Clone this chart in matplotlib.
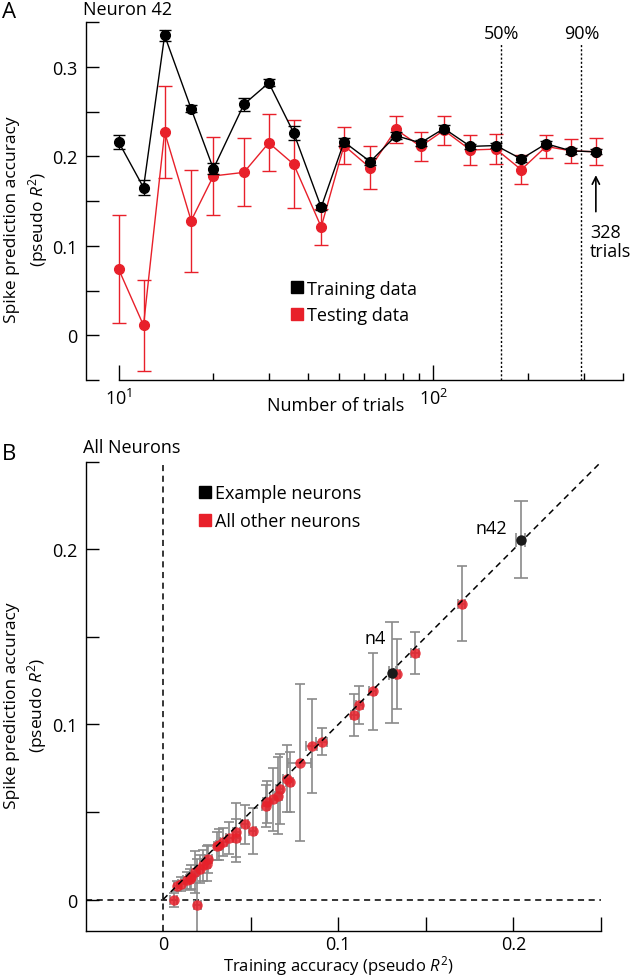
import numpy as np
import matplotlib.pyplot as plt
from matplotlib.lines import Line2D
from matplotlib.ticker import NullFormatter

plt.rcParams['font.family'] = ['Open Sans', 'DejaVu Sans']
plt.rcParams['mathtext.fontset'] = 'custom'
plt.rcParams['mathtext.rm'] = 'Open Sans'
plt.rcParams['mathtext.it'] = 'Open Sans:italic'
plt.rcParams['font.size'] = 13

RED = '#e8202a'
GREY = '#8a8a8a'

# panel A: neuron 42, accuracy vs number of trials
trials = [10, 12, 14, 17, 20, 25, 30, 36, 44, 52, 63, 76, 91, 108, 131, 158, 190, 228, 274, 328]
train_acc = [0.216, 0.165, 0.335, 0.253, 0.186, 0.258, 0.282, 0.226, 0.143, 0.216,
             0.194, 0.223, 0.215, 0.231, 0.211, 0.212, 0.197, 0.214, 0.206, 0.205]
train_err = [0.008, 0.008, 0.006, 0.004, 0.006, 0.007, 0.004, 0.008, 0.003, 0.004,
             0.004, 0.004, 0.003, 0.004, 0.003, 0.003, 0.003, 0.003, 0.003, 0.003]
test_acc = [0.074, 0.011, 0.227, 0.128, 0.178, 0.182, 0.215, 0.191, 0.121, 0.212,
            0.187, 0.230, 0.211, 0.229, 0.207, 0.208, 0.185, 0.211, 0.206, 0.205]
test_err = [0.060, 0.051, 0.051, 0.057, 0.044, 0.038, 0.032, 0.049, 0.020, 0.021,
            0.024, 0.015, 0.016, 0.016, 0.017, 0.017, 0.016, 0.0125, 0.013, 0.015]
frac_lines = [164, 295]
frac_labels = ['50%', '90%']

# panel B: all neurons, training vs testing accuracy
other_x = [0.1705, 0.1438, 0.1334, 0.1196, 0.112, 0.109, 0.0905, 0.0848, 0.0781, 0.0705,
           0.0724, 0.0667, 0.0657, 0.0629, 0.0591, 0.0587, 0.0467, 0.0511, 0.0419, 0.0419,
           0.0377, 0.0343, 0.0320, 0.0309, 0.0257, 0.0248, 0.0229, 0.0210, 0.0181, 0.0162,
           0.0153, 0.0134, 0.0105, 0.0080, 0.0061, 0.0196]
other_y = [0.169, 0.1407, 0.1288, 0.119, 0.111, 0.1057, 0.0902, 0.0877, 0.0782, 0.0690,
           0.0672, 0.0630, 0.0593, 0.0574, 0.0559, 0.0536, 0.0430, 0.0390, 0.0383, 0.0352,
           0.0351, 0.0328, 0.0313, 0.0305, 0.0233, 0.0205, 0.0195, 0.0176, 0.0157, 0.0129,
           0.0115, 0.0110, 0.0091, 0.0078, 0.0000, -0.0030]
other_yerr = [0.0215, 0.012, 0.020, 0.022, 0.011, 0.012, 0.0077, 0.027, 0.045, 0.019,
              0.017, 0.020, 0.022, 0.018, 0.012, 0.012, 0.011, 0.013, 0.017, 0.011,
              0.009, 0.008, 0.009, 0.008, 0.008, 0.010, 0.009, 0.008, 0.012, 0.007,
              0.006, 0.005, 0.004, 0.003, 0.004, 0.026]
other_xerr = [0.002, 0.002, 0.002, 0.002, 0.002, 0.002, 0.003, 0.003, 0.0066, 0.002,
              0.002, 0.002, 0.002, 0.002, 0.002, 0.002, 0.002, 0.002, 0.002, 0.002,
              0.002, 0.002, 0.002, 0.002, 0.002, 0.002, 0.002, 0.002, 0.002, 0.002,
              0.002, 0.002, 0.002, 0.002, 0.002, 0.002]
ex_x = [0.1309, 0.2042]
ex_y = [0.1297, 0.2057]
ex_yerr = [0.029, 0.022]
ex_xerr = [0.002, 0.0025]
ex_names = ['n4', 'n42']

fig = plt.figure(figsize=(6.33, 9.79), dpi=100)
axA = fig.add_axes([0.1359, 0.6108, 0.8483, 0.3657])
axB = fig.add_axes([0.1359, 0.0480, 0.8136, 0.4791])

# ---- panel A ----
axA.errorbar(trials, test_acc, yerr=test_err, color=RED, marker='o', ms=7, lw=1.0,
             elinewidth=1.0, capsize=5, capthick=1.0, zorder=2)
axA.errorbar(trials, train_acc, yerr=train_err, color='black', marker='o', ms=7, lw=1.0,
             elinewidth=1.0, capsize=4, capthick=1.0, zorder=3)
for xv, lab in zip(frac_lines, frac_labels):
    axA.vlines(xv, -0.05, 0.325, colors='black', linestyles=(0, (1.5, 1.5)), lw=1.0)
    axA.text(xv, 0.338, lab, ha='center', va='center')
axA.annotate('', xy=(trials[-1], 0.182), xytext=(trials[-1], 0.135),
             arrowprops=dict(arrowstyle='->', color='black', lw=1.2))
axA.text(314, 0.105, '328\ntrials', ha='left', va='center', linespacing=1.1)

axA.set_xscale('log')
axA.set_xlim(7.88, 400)
axA.set_ylim(-0.05, 0.35)
axA.spines[['top', 'right']].set_visible(False)
axA.spines['bottom'].set_bounds(10, 400)
axA.set_yticks([0, 0.1, 0.2, 0.3])
axA.set_yticklabels(['0', '0.1', '0.2', '0.3'])
axA.set_yticks([-0.05, 0.05, 0.15, 0.25, 0.35], minor=True)
axA.set_xticks([10, 100])
axA.set_xticks([20, 30, 40, 50, 60, 70, 80, 90, 200, 300, 400], minor=True)
axA.xaxis.set_minor_formatter(NullFormatter())
axA.tick_params(axis='y', which='both', direction='in', length=9, width=1, pad=6)
axA.tick_params(axis='x', which='major', direction='in', length=11, width=1, pad=6)
axA.tick_params(axis='x', which='minor', direction='in', length=5, width=1)
axA.set_xlabel('Number of trials')
axA.xaxis.set_label_coords(0.4646, -0.045)
axA.set_ylabel('Spike prediction accuracy\n(pseudo $\\mathit{R}^2$)', linespacing=1.3,
               fontsize=12.5)
axA.yaxis.set_label_coords(-0.068, 0.45)
hA = [Line2D([], [], marker='s', color='black', ls='none', ms=9),
      Line2D([], [], marker='s', color=RED, ls='none', ms=9)]
axA.legend(hA, ['Training data', 'Testing data'], loc='upper left',
           bbox_to_anchor=(0.382, 0.28), frameon=False, handlelength=0.7,
           handletextpad=0.2, borderpad=0, borderaxespad=0, labelspacing=0.45)

# ---- panel B ----
axB.axhline(0, color='black', ls=(0, (4, 3)), lw=1.1, zorder=1)
axB.axvline(0, color='black', ls=(0, (4, 3)), lw=1.1, zorder=1)
axB.plot([0, 0.25], [0, 0.25], color='black', ls=(0, (4, 3)), lw=1.1, zorder=4)
axB.errorbar(other_x, other_y, xerr=other_xerr, yerr=other_yerr, fmt='none',
             ecolor=GREY, elinewidth=1.2, capsize=3.5, capthick=1.2, zorder=2)
axB.errorbar(ex_x, ex_y, xerr=ex_xerr, yerr=ex_yerr, fmt='none',
             ecolor=GREY, elinewidth=1.2, capsize=5, capthick=1.2, zorder=2)
axB.plot(other_x, other_y, 'o', color=RED, ms=7.5, alpha=0.85, mec='none', zorder=3)
axB.plot(ex_x, ex_y, 'o', color='#1a1a1a', ms=7.5, mec='none', zorder=5)
axB.annotate(ex_names[0], (ex_x[0], ex_y[0]), xytext=(-5, 25), textcoords='offset points',
             ha='right', va='center')
axB.annotate(ex_names[1], (ex_x[1], ex_y[1]), xytext=(-10, 8), textcoords='offset points',
             ha='right', va='center')

axB.set_xlim(-0.044, 0.25)
axB.set_ylim(-0.018, 0.25)
axB.spines[['top', 'right']].set_visible(False)
axB.set_xticks([0.05, 0.1, 0.15, 0.2, 0.25])
axB.set_xticklabels(['', '0.1', '', '0.2', ''])
axB.set_xticks([0], minor=True)
axB.set_xticklabels(['0'], minor=True)
axB.set_yticks([0, 0.05, 0.1, 0.15, 0.2, 0.25])
axB.set_yticklabels(['0', '', '0.1', '', '0.2', ''])
axB.tick_params(axis='x', which='major', direction='in', length=10, width=1, pad=3)
axB.tick_params(axis='x', which='minor', direction='in', length=0, pad=3)
axB.tick_params(axis='y', direction='in', length=9, width=1, pad=6)
axB.set_xlabel('Training accuracy (pseudo $\\mathit{R}^2$)', fontsize=12)
axB.xaxis.set_label_coords(0.49, -0.047)
axB.set_ylabel('Spike prediction accuracy\n(pseudo $\\mathit{R}^2$)', linespacing=1.3,
               fontsize=12.5)
axB.yaxis.set_label_coords(-0.071, 0.482)
hB = [Line2D([], [], marker='s', color='black', ls='none', ms=9),
      Line2D([], [], marker='s', color=RED, ls='none', ms=9)]
axB.legend(hB, ['Example neurons', 'All other neurons'], loc='upper left',
           bbox_to_anchor=(0.218, 0.952), frameon=False, handlelength=0.7,
           handletextpad=0.2, borderpad=0, borderaxespad=0, labelspacing=0.55)

for ax in (axA, axB):
    for s in ax.spines.values():
        s.set_linewidth(1.0)

fig.text(0.003, 1 - 13 / 979, 'A', fontsize=16, va='center', ha='left')
fig.text(83 / 633, 1 - 10 / 979, 'Neuron 42', va='center', ha='left')
fig.text(0.003, 1 - 455 / 979, 'B', fontsize=16, va='center', ha='left')
fig.text(83 / 633, 1 - 448 / 979, 'All Neurons', va='center', ha='left')

fig.savefig('out.png', dpi=100)
